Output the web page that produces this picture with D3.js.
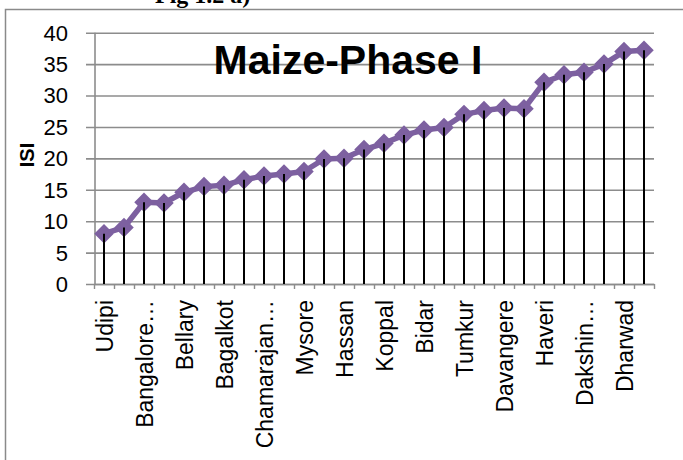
<!DOCTYPE html>
<html>
<head>
<meta charset="utf-8">
<script src="https://cdn.jsdelivr.net/npm/d3@7"></script>
<style>
  html, body { margin: 0; padding: 0; background: #fff; }
  svg { display: block; }
</style>
</head>
<body>
<div id="chart"></div>
<script>
// ---- data ----
// Category axis: Excel shows only every other label (others unreadable in the picture)
const categories = [
  "Udipi", "(unlabelled)", "Bangalore…", "(unlabelled)", "Bellary", "(unlabelled)",
  "Bagalkot", "(unlabelled)", "Chamarajan…", "(unlabelled)", "Mysore", "(unlabelled)",
  "Hassan", "(unlabelled)", "Koppal", "(unlabelled)", "Bidar", "(unlabelled)",
  "Tumkur", "(unlabelled)", "Davangere", "(unlabelled)", "Haveri", "(unlabelled)",
  "Dakshin…", "(unlabelled)", "Dharwad", "(unlabelled)"
];
const isiValues = [
  8.0, 9.0, 13.0, 12.9, 14.6, 15.5, 15.7, 16.6, 17.2, 17.5,
  17.9, 19.9, 20.0, 21.4, 22.4, 23.7, 24.5, 24.9, 27.0, 27.6,
  28.0, 27.9, 32.1, 33.3, 33.7, 35.0, 37.0, 37.2
];
const yTicks = [0, 5, 10, 15, 20, 25, 30, 35, 40];
const chartTitle = "Maize-Phase I";
const figCaption = "Fig 1.2 a)";
const yLabel = "ISI";

// ---- layout ----
const W = 683, H = 460;
const plot = { left: 94, right: 654, top: 32.7, bottom: 284 };
const purple = "#7d60a0";
const gridColor = "#8c8c8c";
const font = "'Liberation Sans', Arial, sans-serif";

const svg = d3.select("#chart").append("svg")
  .attr("width", W).attr("height", H);

// outer chart border (only left & top visible in the crop)
svg.append("rect")
  .attr("x", 5.5).attr("y", 9.5)
  .attr("width", 720).attr("height", 500)
  .attr("fill", "none").attr("stroke", "#8a8a8a").attr("stroke-width", 1.5);

// caption partially cut off at top (as in the reference)
svg.append("text")
  .attr("x", 155).attr("y", 3)
  .attr("font-family", "'Liberation Serif', 'Times New Roman', serif")
  .attr("font-weight", "bold").attr("font-size", 24)
  .attr("fill", "#000")
  .text(figCaption);

const idx = d3.range(categories.length);
const x = d3.scalePoint().domain(idx).range([plot.left, plot.right]).padding(0.5);
const y = d3.scaleLinear().domain([0, 40]).range([plot.bottom, plot.top]);

// gridlines (extend a little left of the axis, like outside tick marks)
const gy = svg.append("g").attr("transform", `translate(${plot.right},0)`)
  .call(d3.axisLeft(y).tickValues(yTicks).tickSize(plot.right - plot.left + 8).tickFormat(""));
gy.select(".domain").remove();
gy.selectAll(".tick line").attr("stroke", gridColor).attr("stroke-width", 1.6);

// y tick labels
svg.append("g").selectAll("text").data(yTicks).join("text")
  .attr("x", 68).attr("y", d => y(d))
  .attr("dy", "0.36em")
  .attr("text-anchor", "end")
  .attr("font-family", font).attr("font-size", 22).attr("fill", "#000")
  .text(d => d);

// vertical axis line
svg.append("line")
  .attr("x1", plot.left + 1).attr("x2", plot.left + 1)
  .attr("y1", y(40)).attr("y2", plot.bottom)
  .attr("stroke", gridColor).attr("stroke-width", 1.6);

// category axis line + tick marks at category boundaries
const step = x.step();
const gx = svg.append("g").attr("transform", `translate(${-step / 2},${plot.bottom})`).call(
  d3.axisBottom(d3.scalePoint().domain(d3.range(categories.length + 1)).range([plot.left + step / 2, plot.right + step / 2]))
    .tickSize(5).tickSizeOuter(0).tickFormat(""));
gx.select(".domain").attr("stroke", gridColor).attr("stroke-width", 1.6);
gx.selectAll(".tick line").attr("stroke", gridColor).attr("stroke-width", 1.4);

// x tick labels (every other category, rotated)
svg.append("g").selectAll("text")
  .data(idx.filter(i => i % 2 === 0)).join("text")
  .attr("transform", i => `translate(${x(i) + 1},300) rotate(-90)`)
  .attr("dy", "0.36em")
  .attr("text-anchor", "end")
  .attr("font-family", font).attr("font-size", 23).attr("fill", "#000")
  .text(i => categories[i]);

// y axis title
svg.append("text")
  .attr("transform", `translate(27,155) rotate(-90)`)
  .attr("dy", "0.36em")
  .attr("text-anchor", "middle")
  .attr("font-family", font).attr("font-weight", "bold").attr("font-size", 20)
  .attr("fill", "#000")
  .text(yLabel);

// chart title
svg.append("text")
  .attr("x", 348).attr("y", 74)
  .attr("text-anchor", "middle")
  .attr("font-family", font).attr("font-weight", "bold").attr("font-size", 41)
  .attr("fill", "#000")
  .text(chartTitle);

// line
const line = d3.line().x((d, i) => x(i)).y(d => y(d));
svg.append("path")
  .datum(isiValues)
  .attr("d", line)
  .attr("fill", "none")
  .attr("stroke", purple).attr("stroke-width", 5.5)
  .attr("stroke-linejoin", "round");

// diamond markers
const diamond = d3.symbol().type(d3.symbolSquare).size(190);
svg.append("g").selectAll("path").data(isiValues).join("path")
  .attr("transform", (d, i) => `translate(${x(i)},${y(d)}) rotate(45)`)
  .attr("d", diamond)
  .attr("fill", purple);

// drop lines (stems) on top
svg.append("g").selectAll("line").data(isiValues).join("line")
  .attr("x1", (d, i) => x(i)).attr("x2", (d, i) => x(i))
  .attr("y1", d => y(d)).attr("y2", plot.bottom)
  .attr("stroke", "#000").attr("stroke-width", 2);
</script>
</body>
</html>
